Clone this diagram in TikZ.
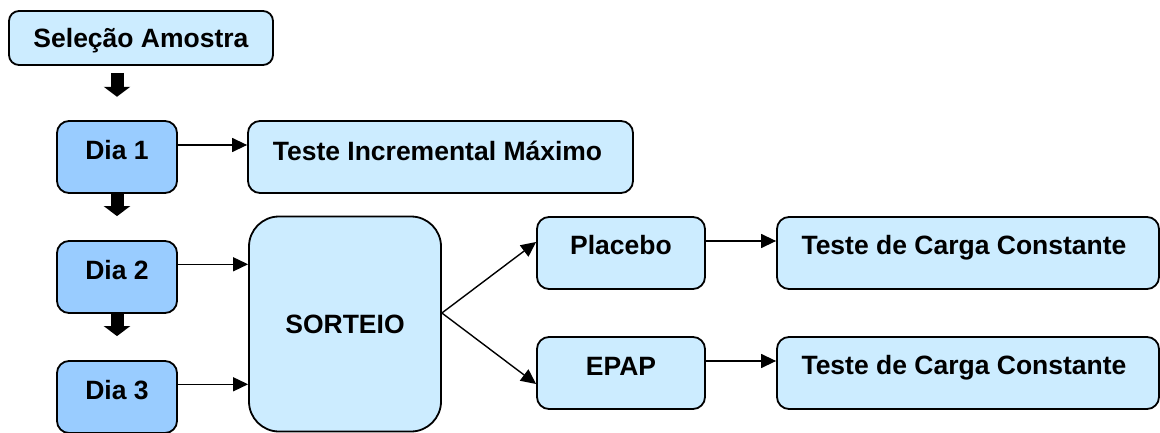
\documentclass[tikz,border=0pt]{standalone}
\usepackage{fontspec}
\setmainfont{Liberation Sans}
\usetikzlibrary{arrows.meta}
\definecolor{lblue}{HTML}{CCECFF}
\definecolor{dblue}{HTML}{99CCFF}
\tikzset{
  box/.style={draw=black, line width=1.8pt, rounded corners=12pt, fill=lblue,
    font=\fontsize{26.5}{30}\selectfont\bfseries, inner sep=0pt,
    text height=19pt},
  daybox/.style={box, fill=dblue, minimum width=120pt, minimum height=72pt, text depth=14pt},
  arr/.style={line width=1.4pt, -{Triangle[length=15pt,width=14pt]}},
  fat/.style={line width=13pt, -{Triangle[length=10pt,width=26pt]}}
}
\begin{document}
\begin{tikzpicture}[x=1pt,y=1pt]
\useasboundingbox (0,0) rectangle (1160,432);
\clip (0,0) rectangle (1160,432);
\node[box, rounded corners=10pt, minimum width=264pt, minimum height=54pt, text depth=0pt] (sel) at (141,394) {Seleção Amostra};
\node[daybox] (d1) at (117,275) {Dia 1};
\node[daybox, text depth=15pt] (d2) at (117,155) {Dia 2};
\node[daybox, text depth=15pt] (d3) at (117,35) {Dia 3};
\node[box, minimum width=385pt, minimum height=72pt, text depth=12pt] (tim) at (440.5,275) {\hspace*{-6pt}Teste Incremental Máximo};
\node[box, rounded corners=30pt, minimum width=192pt, minimum height=215pt, text depth=0pt] (sort) at (345,108) {SORTEIO};
\node[box, minimum width=168pt, minimum height=72pt, text depth=16pt] (plac) at (621,179) {Placebo};
\node[box, minimum width=168pt, minimum height=72pt, text depth=15pt] (epap) at (621,59) {EPAP};
\node[box, minimum width=382pt, minimum height=72pt, text depth=16pt] (tc1) at (968,179) {Teste de Carga Constante\hspace*{8pt}};
\node[box, minimum width=382pt, minimum height=72pt, text depth=16pt] (tc2) at (968,59) {Teste de Carga Constante\hspace*{8pt}};
% fat arrows
\draw[fat, shorten <=7pt, shorten >=23.3pt] (d1.north |- sel.south) -- (d1.north);
\draw[fat, shorten >=24pt] (d1.south) -- (d2.north);
\draw[fat, shorten >=24pt] (d2.south) -- (d3.north);
% thin arrows
\draw[arr] ([yshift=12pt]d1.east) -- ([yshift=12pt]d1.east -| tim.west);
\draw[arr] ([yshift=12.7pt]d2.east) -- ([yshift=12.7pt]d2.east -| sort.west);
\draw[arr] ([yshift=12.7pt]d3.east) -- ([yshift=12.7pt]d3.east -| sort.west);
\draw[arr] ([yshift=11pt]sort.east) -- ([yshift=11pt]plac.west);
\draw[arr] ([yshift=11pt]sort.east) -- ([yshift=-11pt]epap.west);
\draw[arr] ([yshift=12pt]plac.east) -- ([yshift=12pt]plac.east -| tc1.west);
\draw[arr] ([yshift=12pt]epap.east) -- ([yshift=12pt]epap.east -| tc2.west);
\end{tikzpicture}
\end{document}
